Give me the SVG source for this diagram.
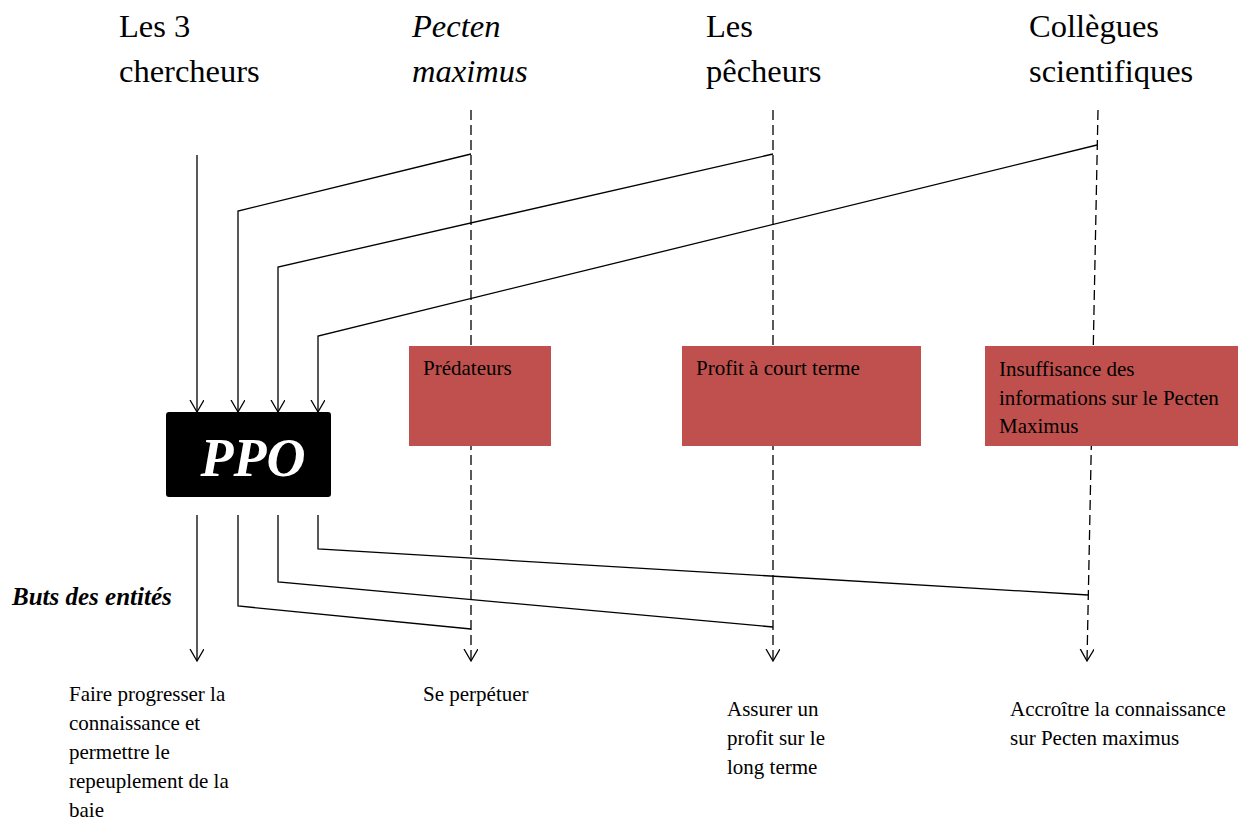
<svg xmlns="http://www.w3.org/2000/svg" width="1240" height="820" viewBox="0 0 1240 820">
<style>
.t{font-family:"Liberation Serif","Times New Roman",serif;fill:#000}
.h{font-size:32.5px}
.b{font-size:21px}
.ln{fill:none;stroke:#000;stroke-width:1.3}
.ds{fill:none;stroke:#000;stroke-width:1.3;stroke-dasharray:10 5}
.red{fill:#C0504D}
</style>
<defs>
<marker id="ah" markerUnits="userSpaceOnUse" markerWidth="20" markerHeight="20" refX="12" refY="7" orient="auto">
<path d="M0,0 L12,7 L0,14" fill="none" stroke="#000" stroke-width="1.3"/>
</marker>
</defs>
<rect width="1240" height="820" fill="#fff"/>
<g id="headers">
<text class="t h" x="119" y="37">Les 3</text>
<text class="t h" x="119" y="82">chercheurs</text>
<text class="t h" x="412" y="37" font-style="italic">Pecten</text>
<text class="t h" x="412" y="82" font-style="italic">maximus</text>
<text class="t h" x="706" y="37">Les</text>
<text class="t h" x="706" y="82">pêcheurs</text>
<text class="t h" x="1029" y="37">Collègues</text>
<text class="t h" x="1029" y="82">scientifiques</text>
</g>
<g id="connectors">
<path class="ds" d="M471,110 L471,661" marker-end="url(#ah)"/>
<path class="ds" d="M773,110 L773,661" marker-end="url(#ah)"/>
<path class="ds" d="M1098,110 L1087,661" marker-end="url(#ah)"/>
<path class="ln" d="M197,155 L197,412" marker-end="url(#ah)"/>
<path class="ln" d="M471,154 L238,211 L238,412" marker-end="url(#ah)"/>
<path class="ln" d="M773,154 L278,267 L278,412" marker-end="url(#ah)"/>
<path class="ln" d="M1097,145 L318,336 L318,412" marker-end="url(#ah)"/>
<path class="ln" d="M197,515 L197,661" marker-end="url(#ah)"/>
<path class="ln" d="M238,515 L238,606 L471,629"/>
<path class="ln" d="M278,515 L278,582 L773,627"/>
<path class="ln" d="M318,515 L318,549 L1088,595"/>
</g>
<g id="ppo">
<rect x="166" y="412" width="165" height="85" rx="3" fill="#000"/>
<text class="t" x="253" y="476" font-size="54" font-weight="bold" font-style="italic" style="fill:#fff" text-anchor="middle">PPO</text>
</g>
<g id="predateurs">
<rect class="red" x="409" y="346" width="142" height="100"/>
<text class="t b" x="423" y="375">Prédateurs</text>
</g>
<g id="profit">
<rect class="red" x="682" y="346" width="239" height="100"/>
<text class="t b" x="696" y="375">Profit à court terme</text>
</g>
<g id="insuffisance">
<rect class="red" x="985" y="346" width="253" height="100"/>
<text class="t b" x="999" y="376">Insuffisance des</text>
<text class="t b" x="999" y="405">informations sur le Pecten</text>
<text class="t b" x="999" y="433">Maximus</text>
</g>
<g id="buts">
<text class="t" x="12" y="605" font-size="25" font-weight="bold" font-style="italic">Buts des entités</text>
</g>
<g id="goal1">
<text class="t b" x="69" y="701">Faire progresser la</text>
<text class="t b" x="69" y="730">connaissance et</text>
<text class="t b" x="69" y="759">permettre le</text>
<text class="t b" x="69" y="788">repeuplement de la</text>
<text class="t b" x="69" y="817">baie</text>
</g>
<g id="goal2">
<text class="t b" x="423" y="701">Se perpétuer</text>
</g>
<g id="goal3">
<text class="t b" x="727" y="716">Assurer un</text>
<text class="t b" x="727" y="745">profit sur le</text>
<text class="t b" x="727" y="774">long terme</text>
</g>
<g id="goal4">
<text class="t b" x="1010" y="716">Accroître la connaissance</text>
<text class="t b" x="1010" y="745">sur Pecten maximus</text>
</g>
</svg>
